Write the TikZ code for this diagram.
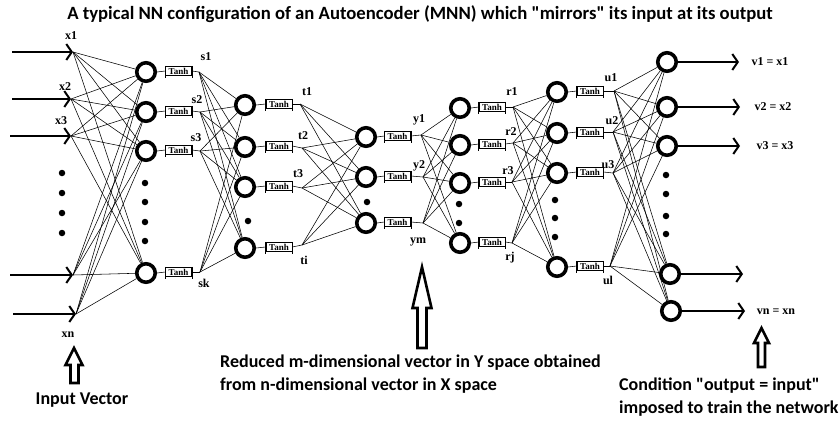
\documentclass[tikz,border=0pt]{standalone}
\usepackage{fontspec}
\setmainfont{Liberation Serif}
\newfontfamily\calib{Carlito}
\usetikzlibrary{arrows.meta}
\tikzset{
  neuron/.style={circle,draw,line width=3.6pt,minimum size=18.5pt,inner sep=0pt},
  tanhbox/.style={draw,line width=0.6pt,minimum width=26pt,minimum height=9.5pt,inner sep=0pt,font=\bfseries\fontsize{9}{9}\selectfont},
  wire/.style={line width=0.55pt},
  lbl/.style={font=\bfseries\fontsize{12}{12}\selectfont,inner sep=0pt},
  inarrow/.style={line width=2.4pt,-{Straight Barb[length=5.5pt,width=16pt,line width=2pt]}},
  dot/.style={circle,fill,inner sep=0pt,minimum size=6.5pt},
  hollow/.style={draw,line width=2.6pt,line join=miter,fill=white},
  note/.style={font=\calib\bfseries\fontsize{18}{22.5}\selectfont,align=left,inner sep=0pt,anchor=west},
}
\begin{document}
\begin{tikzpicture}[x=1pt,y=-1pt]
\useasboundingbox (0,0) rectangle (840,421);
\node[font=\calib\bfseries\fontsize{18.7}{18.7}\selectfont] (title) at (420,14) {A typical NN configuration of an Autoencoder (MNN) which "mirrors" its input at its output};

% input layer
\foreach \i/\jx/\jy/\sx in {1/73/52/12, 2/71/99/12, 3/71/136/10, 4/73/275/10, 5/76/314/13} {
  \coordinate (X\i) at (\jx,\jy);
  \coordinate (XA\i) at (\sx,\jy);
  \draw[inarrow] (XA\i) -- (X\i);
}
\node[lbl] (lx1) at (71,36) {x1};
\node[lbl] (lx2) at (65,87) {x2};
\node[lbl] (lx3) at (61,121) {x3};
\node[lbl] (lxn) at (68,335) {xn};
\foreach \k/\y in {1/173,2/193,3/213,4/233} \node[dot] (dx\k) at (62,\y) {};

% layer S
\foreach \i/\y/\jx/\jy in {1/72/199/72, 2/112/200/112, 3/151/200/151, 4/273/200/272} {
  \node[neuron] (S\i) at (146,\y) {};
  \node[tanhbox] (SB\i) at (178.5,\y-1) {Tanh};
  \coordinate (SJ\i) at (\jx,\jy);
  \draw[wire] (S\i.east) -- (SB\i.west);
  \draw[wire] (SB\i.east) -- (SJ\i);
  \draw[wire] (SB\i.north west) -- ([yshift=-2pt]SB\i.south west);
  \draw[wire] (SB\i.north east) -- ([yshift=-2pt]SB\i.south east);
}
\node[lbl] (ls1) at (206,57) {s1};
\node[lbl] (ls2) at (197,100) {s2};
\node[lbl] (ls3) at (196,138) {s3};
\node[lbl] (lsk) at (204,283) {sk};
\foreach \k/\y in {1/183,2/202,3/222,4/241} \node[dot] (ds\k) at (145,\y) {};

% layer T
\foreach \i/\y/\jx/\jy in {1/105/300/104, 2/147/302/148, 3/187/302/188, 4/248/302/245} {
  \node[neuron] (T\i) at (245,\y) {};
  \node[tanhbox] (TB\i) at (279,\y-1) {Tanh};
  \coordinate (TJ\i) at (\jx,\jy);
  \draw[wire] (T\i.east) -- (TB\i.west);
  \draw[wire] (TB\i.east) -- (TJ\i);
  \draw[wire] (TB\i.north west) -- ([yshift=-2pt]TB\i.south west);
  \draw[wire] (TB\i.north east) -- ([yshift=-2pt]TB\i.south east);
}
\node[lbl] (lt1) at (307,92) {t1};
\node[lbl] (lt2) at (303,136) {t2};
\node[lbl] (lt3) at (298,174) {t3};
\node[lbl] (lti) at (304,260) {ti};
\node[dot] (dt1) at (248,221) {};

% layer Y
\foreach \i/\y/\jx/\jy in {1/137/421/135, 2/177/423/177, 3/223/423/223} {
  \node[neuron] (Y\i) at (366,\y) {};
  \node[tanhbox] (YB\i) at (397.5,\y-1) {Tanh};
  \coordinate (YJ\i) at (\jx,\jy);
  \draw[wire] (Y\i.east) -- (YB\i.west);
  \draw[wire] (YB\i.east) -- (YJ\i);
  \draw[wire] (YB\i.north west) -- ([yshift=-2pt]YB\i.south west);
  \draw[wire] (YB\i.north east) -- ([yshift=-2pt]YB\i.south east);
}
\node[lbl] (ly1) at (419,120) {y1};
\node[lbl] (ly2) at (419,166) {y2};
\node[lbl] (lym) at (418,242) {ym};
\node[dot] (dy1) at (367,202) {};

% layer R
\foreach \i/\y/\jx/\jy in {1/108/513/107, 2/145/513/143, 3/183/512/182, 4/243/512/243} {
  \node[neuron] (R\i) at (460,\y) {};
  \node[tanhbox] (RB\i) at (492,\y-1) {Tanh};
  \coordinate (RJ\i) at (\jx,\jy);
  \draw[wire] (R\i.east) -- (RB\i.west);
  \draw[wire] (RB\i.east) -- (RJ\i);
  \draw[wire] (RB\i.north west) -- ([yshift=-2pt]RB\i.south west);
  \draw[wire] (RB\i.north east) -- ([yshift=-2pt]RB\i.south east);
}
\node[lbl] (lr1) at (512,92) {r1};
\node[lbl] (lr2) at (511,132) {r2};
\node[lbl] (lr3) at (508,171) {r3};
\node[lbl] (lrj) at (510,258) {rj};
\foreach \k/\y in {1/204,2/223} \node[dot] (dr\k) at (459,\y) {};

% layer U
\foreach \i/\y/\jx/\jy in {1/92/614/91, 2/133/613/132, 3/173/613/173, 4/267/610/266} {
  \node[neuron] (U\i) at (557,\y) {};
  \node[tanhbox] (UB\i) at (590,\y-1) {Tanh};
  \coordinate (UJ\i) at (\jx,\jy);
  \draw[wire] (U\i.east) -- (UB\i.west);
  \draw[wire] (UB\i.east) -- (UJ\i);
  \draw[wire] (UB\i.north west) -- ([yshift=-2pt]UB\i.south west);
  \draw[wire] (UB\i.north east) -- ([yshift=-2pt]UB\i.south east);
}
\node[lbl] (lu1) at (611,78) {u1};
\node[lbl] (lu2) at (612,121) {u2};
\node[lbl] (lu3) at (608,165) {u3};
\node[lbl] (lul) at (608,280) {ul};
\foreach \k/\y in {1/200,2/218,3/237} \node[dot] (du\k) at (555,\y) {};

% output layer
\foreach \i/\x/\y/\ex in {1/667/62/739, 2/667/107/740, 3/667/146/740, 4/670/274/743, 5/671/311/745} {
  \node[neuron] (O\i) at (\x,\y) {};
  \coordinate (OA\i) at (\ex,\y);
  \draw[inarrow] (O\i.east) -- (OA\i);
}
\foreach \k/\y in {1/175,2/194,3/216,4/234} \node[dot] (do\k) at (666,\y) {};
\node[lbl] (lv1) at (770,62) {v1 = x1};
\node[lbl] (lv2) at (773,107) {v2 = x2};
\node[lbl] (lv3) at (775,146) {v3 = x3};
\node[lbl] (lvn) at (776,312) {vn = xn};

% full connections
\foreach \a in {1,...,5} \foreach \b in {1,...,4} \draw[wire] (X\a) -- (S\b);
\foreach \a in {1,...,4} \foreach \b in {1,...,4} \draw[wire] (SJ\a) -- (T\b);
\foreach \a in {1,...,4} \foreach \b in {1,...,3} \draw[wire] (TJ\a) -- (Y\b);
\foreach \a in {1,...,3} \foreach \b in {1,...,4} \draw[wire] (YJ\a) -- (R\b);
\foreach \a in {1,...,4} \foreach \b in {1,...,4} \draw[wire] (RJ\a) -- (U\b);
\foreach \a in {1,...,4} \foreach \b in {1,...,5} \draw[wire] (UJ\a) -- (O\b);

% hollow arrows
\draw[hollow] (74,348) -- (82.5,365) -- (78.5,365) -- (78.5,383) -- (70.5,383) -- (70.5,365) -- (65.5,365) -- cycle;
\draw[hollow] (422,267) -- (431.5,308) -- (426.5,308) -- (426.5,348) -- (417.5,348) -- (417.5,308) -- (412.5,308) -- cycle;
\draw[hollow] (761.5,328) -- (769,343) -- (765,343) -- (765,367) -- (758,367) -- (758,343) -- (754,343) -- cycle;

% notes
\node[note,anchor=center] (iv) at (82,400) {Input Vector};
\node[note] (red) at (220,374) {Reduced m-dimensional vector in Y space obtained\\from n-dimensional vector in X space};
\node[note] (cond) at (619,397) {Condition "output = input"\\imposed to train the network};
\end{tikzpicture}
\end{document}
